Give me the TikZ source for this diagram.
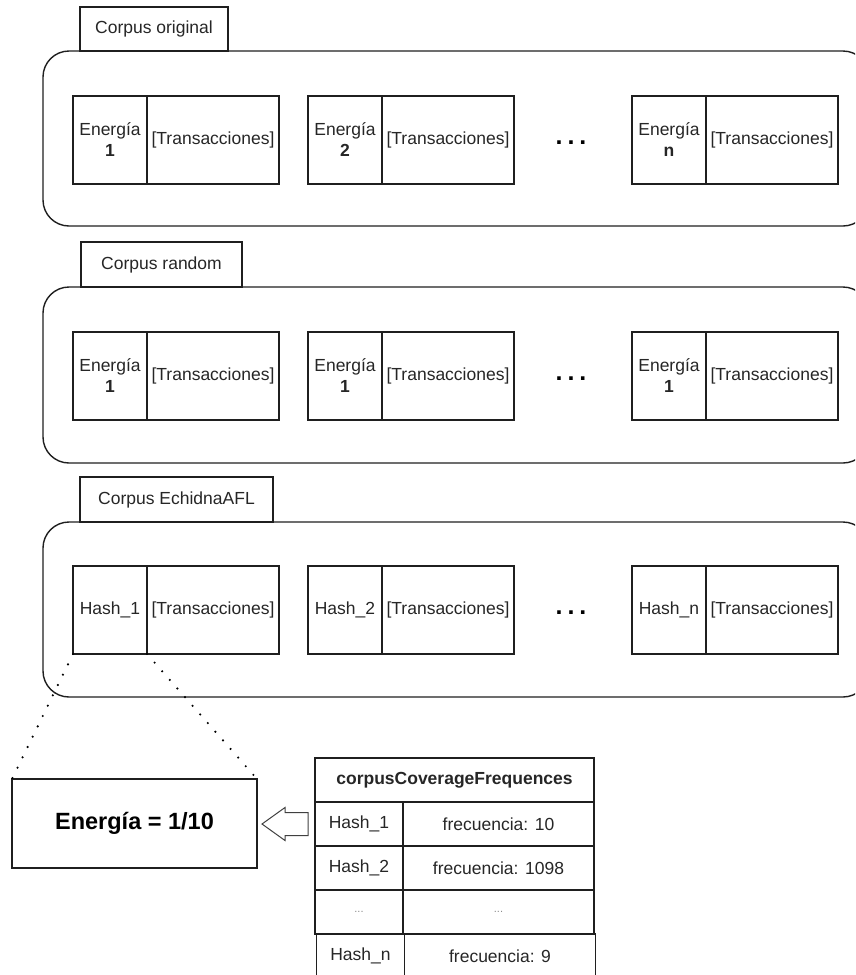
\documentclass[tikz,border=0pt]{standalone}
\usepackage{fontspec}
\setmainfont{Liberation Sans}
\newcommand{\regsz}{\fontsize{17.5}{21}\selectfont}
\newcommand{\bigsz}{\fontsize{23.5}{27}\selectfont}
\begin{document}
\begin{tikzpicture}[x=1pt,y=-1pt,
  ln/.style={line width=1.4pt, draw=black!88, outer sep=0pt},
  frame/.style={ln, rectangle, rounded corners=26pt, inner sep=0pt, minimum width=826pt, anchor=north west},
  tab/.style={ln, rectangle, inner sep=0pt, anchor=south west, font=\regsz, text=black!85},
  ecell/.style={ln, rectangle, inner sep=0pt, minimum width=74pt, minimum height=88pt, align=center, anchor=north west, font=\regsz, text=black!85},
  tcell/.style={ln, rectangle, inner sep=0pt, minimum width=132pt, minimum height=88pt, anchor=north west, font=\regsz, text=black!85},
  more/.style={inner sep=0pt, font=\bfseries\fontsize{25}{27}\selectfont},
  kcell/.style={ln, rectangle, inner sep=0pt, minimum width=88pt, minimum height=44pt, anchor=north west, font=\regsz, text=black!85},
  vcell/.style={ln, rectangle, inner sep=0pt, minimum width=191pt, minimum height=44pt, anchor=north west, font=\regsz, text=black!85},
  faint/.style={text=black!45, font=\fontsize{11}{13}\selectfont},
  dotline/.style={line width=2.4pt, line cap=round, dash pattern=on 0pt off 11.5pt, draw=black},
  hollow/.style={line width=1pt, draw=black!75, line join=miter}
]
\useasboundingbox (0,0) rectangle (855,975);
\clip (0,0) rectangle (855,975);

% ---- Corpus original ----
\node[frame, minimum height=175pt] (c1) at (43,51) {};
\node[tab, minimum width=148pt, minimum height=44pt] (tab1) at (80,51) {Corpus original};
\node[ecell] (o1) at (73,96) {Energía\\\textbf{1}};
\node[tcell] (o1t) at (o1.north east) {[Transacciones]};
\node[ecell] (o2) at (308,96) {Energía\\\textbf{2}};
\node[tcell] (o2t) at (o2.north east) {[Transacciones]};
\node[more] (od) at (571,143) {.\kern5pt.\kern5pt.};
\node[ecell] (on) at (632,96) {Energía\\\textbf{n}};
\node[tcell] (ont) at (on.north east) {[Transacciones]};

% ---- Corpus random ----
\node[frame, minimum height=176pt] (c2) at (43,287) {};
\node[tab, minimum width=161pt, minimum height=45pt] (tab2) at (81,287) {Corpus random};
\node[ecell] (r1) at (73,332) {Energía\\\textbf{1}};
\node[tcell] (r1t) at (r1.north east) {[Transacciones]};
\node[ecell] (r2) at (308,332) {Energía\\\textbf{1}};
\node[tcell] (r2t) at (r2.north east) {[Transacciones]};
\node[more] (rd) at (571,379) {.\kern5pt.\kern5pt.};
\node[ecell] (rn) at (632,332) {Energía\\\textbf{1}};
\node[tcell] (rnt) at (rn.north east) {[Transacciones]};

% ---- Corpus EchidnaAFL ----
\node[frame, minimum height=175pt] (c3) at (43,522) {};
\node[tab, minimum width=193pt, minimum height=45pt] (tab3) at (80,522) {Corpus EchidnaAFL};
\node[ecell] (h1) at (73,566) {Hash\_1};
\node[tcell] (h1t) at (h1.north east) {[Transacciones]};
\node[ecell] (h2) at (308,566) {Hash\_2};
\node[tcell] (h2t) at (h2.north east) {[Transacciones]};
\node[more] (hd) at (571,613) {.\kern5pt.\kern5pt.};
\node[ecell] (hn) at (632,566) {Hash\_n};
\node[tcell] (hnt) at (hn.north east) {[Transacciones]};

% ---- energy of the first hash ----
\node[ln, rectangle, inner sep=0pt, minimum width=245pt, minimum height=89pt, anchor=north west,
      font=\bigsz\bfseries, text=black] (en) at (12,779) {Energía = 1/10};
\draw[dotline] (h1.south west) -- (en.north west);
\draw[dotline] (h1.south east) -- (en.north east);

% ---- frequency table ----
\node[ln, rectangle, inner sep=0pt, minimum width=279pt, minimum height=44pt, anchor=north west,
      font=\regsz\bfseries, text=black!85] (tbl) at (315,758) {corpusCoverageFrequences};
\node[kcell] (k1) at (tbl.south west) {Hash\_1};
\node[vcell] (v1) at (k1.north east) {frecuencia: 10};
\node[kcell] (k2) at (k1.south west) {Hash\_2};
\node[vcell] (v2) at (k2.north east) {frecuencia: 1098};
\node[kcell, faint] (k3) at (k2.south west) {...};
\node[vcell, faint] (v3) at (k3.north east) {...};
\node[kcell, xshift=1.5pt] (k4) at (k3.south west) {Hash\_n};
\node[vcell] (v4) at (k4.north east) {frecuencia: 9};

% ---- hollow arrow from the table to the energy box ----
\draw[hollow] (308,812.5) -- (285,812.5) -- (285,807.5) -- (262,824) -- (285,840.5)
  -- (285,835.5) -- (308,835.5) -- cycle;
\end{tikzpicture}
\end{document}
